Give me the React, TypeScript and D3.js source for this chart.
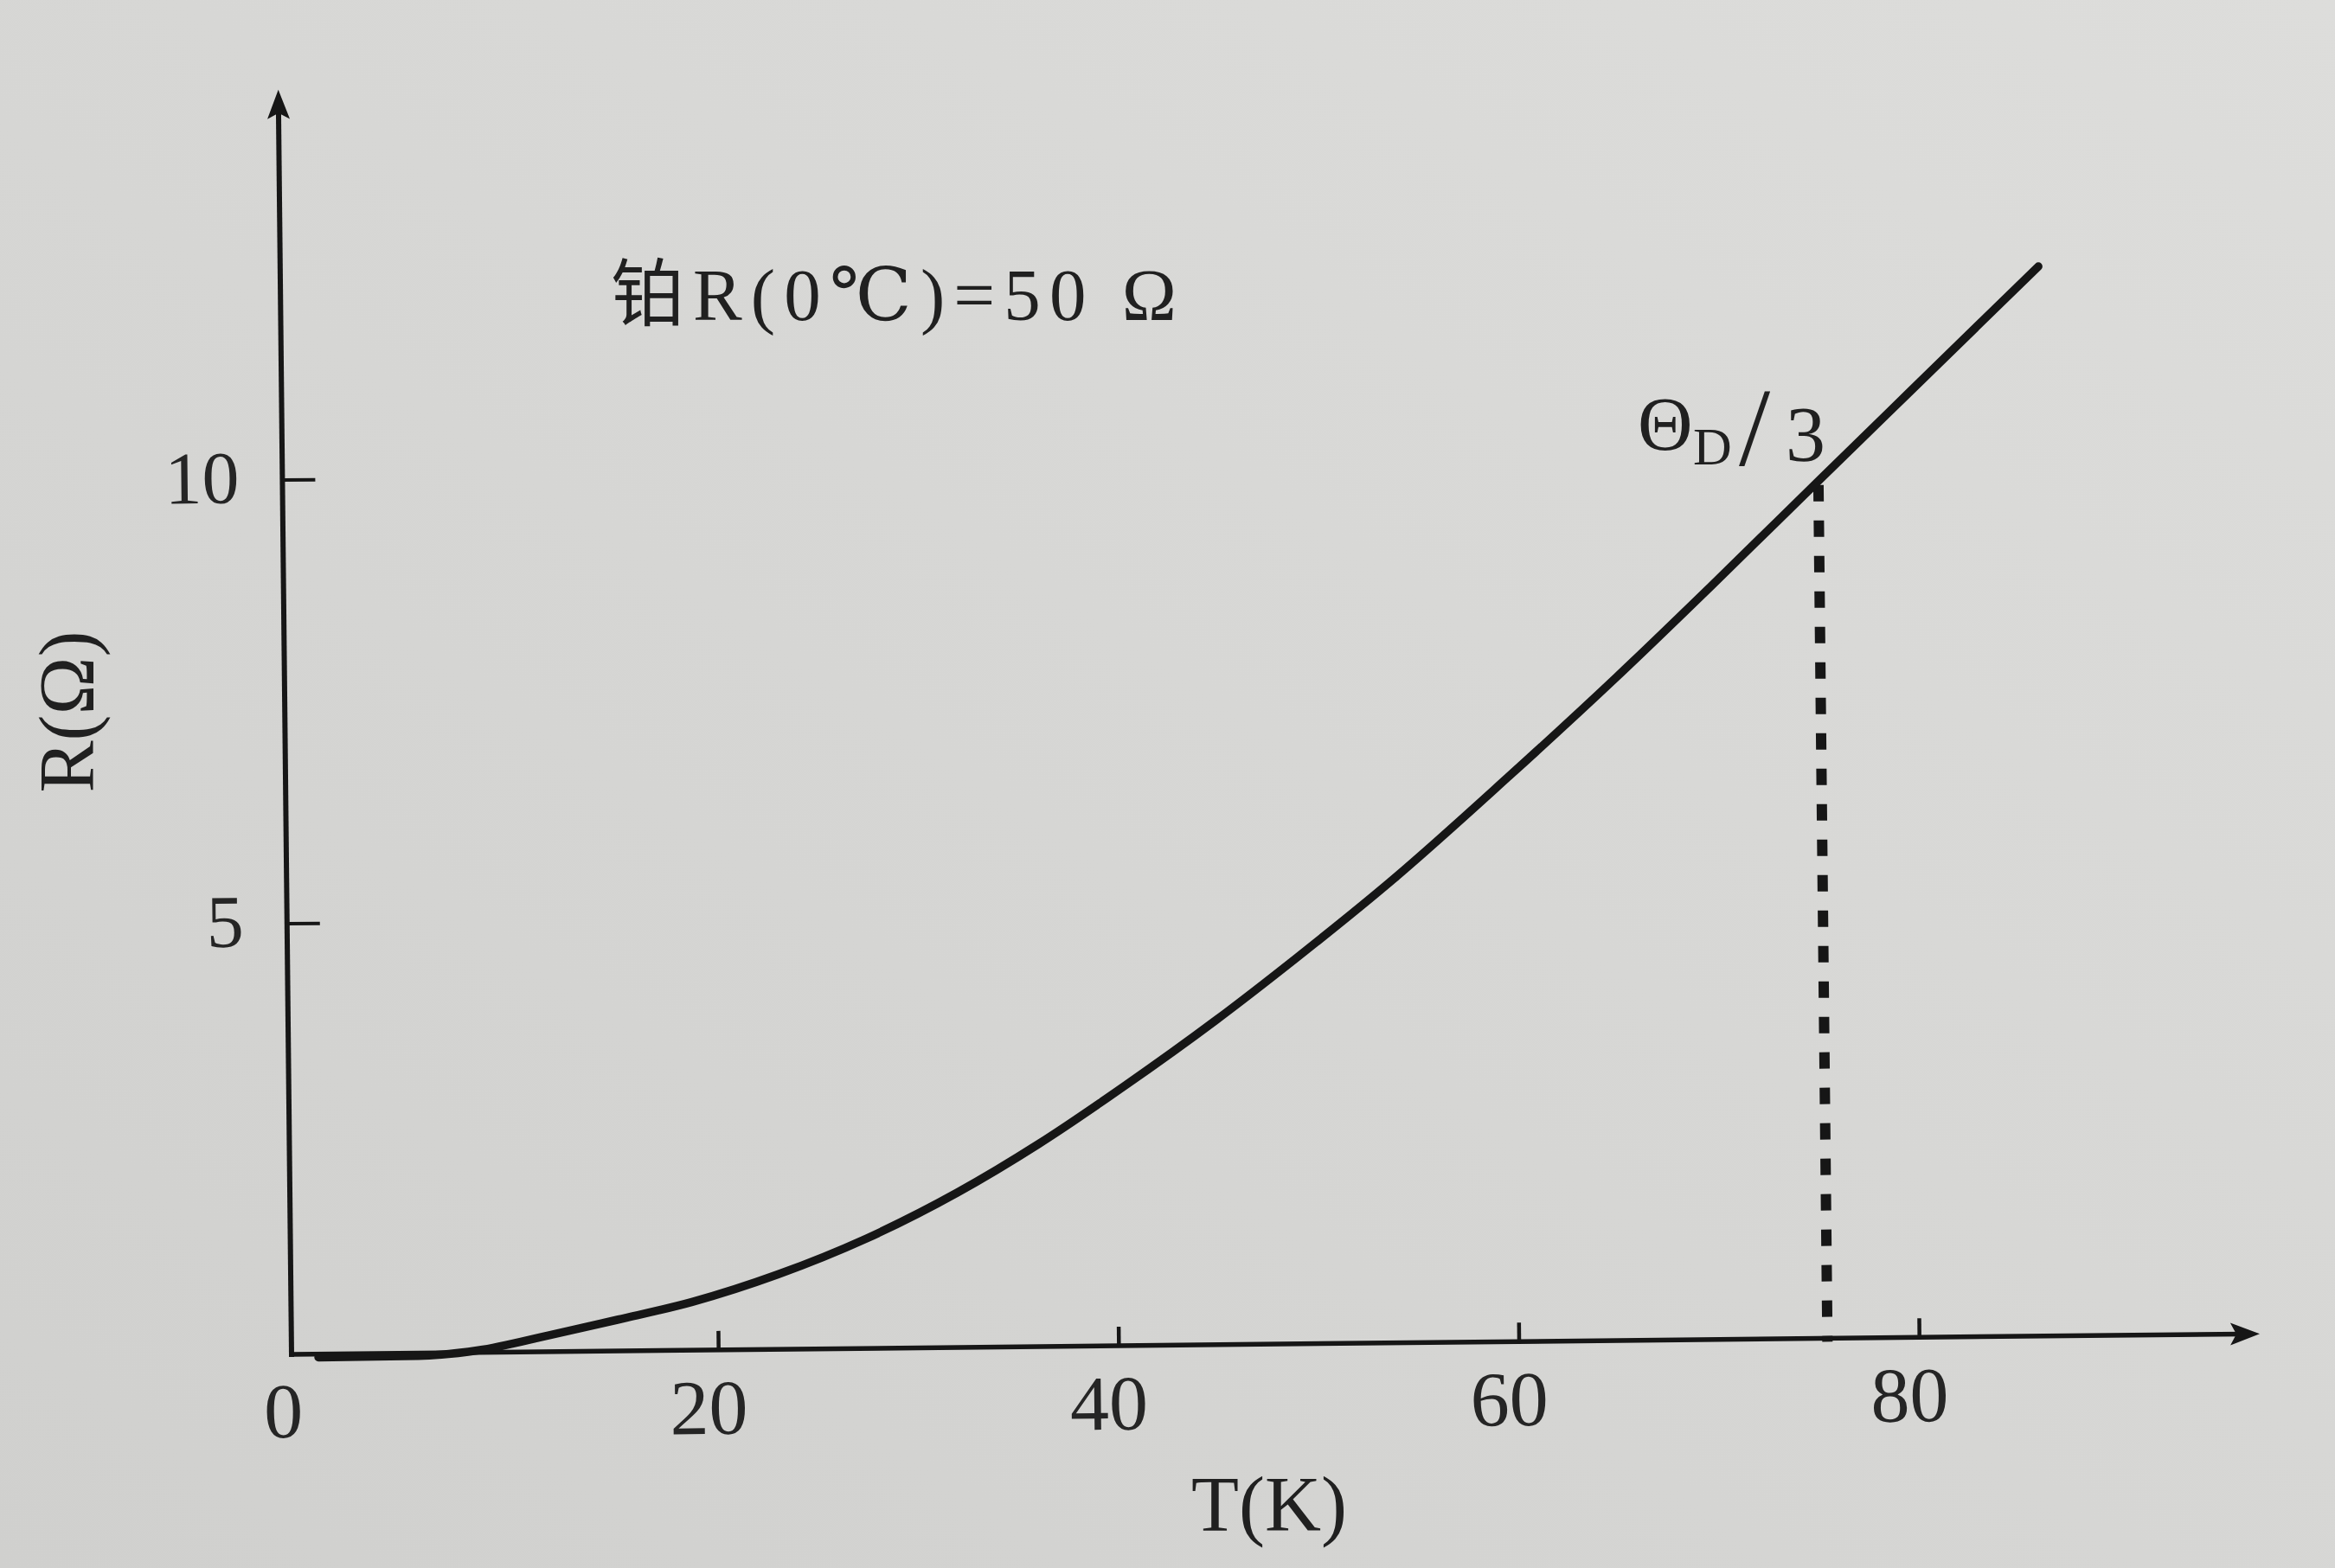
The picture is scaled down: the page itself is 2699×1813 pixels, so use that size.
import { useEffect, useRef } from "react";
import * as d3 from "d3";

// curve: T in K, R in ohm
const temps = [0, 5, 8, 11.5, 15, 18.7, 23, 27.4, 32, 36.1, 40.4, 45, 49.1, 54, 59.7, 65.2, 70, 75.5, 80, 86.5];
const resist = [0.11, 0.115, 0.17, 0.33, 0.5, 0.69, 0.99, 1.38, 1.89, 2.43, 3.07, 3.8, 4.5, 5.38, 6.5, 7.62, 8.64, 9.83, 10.8, 12.2];

const xTicks = [20, 40, 60, 80];
const yTicks = [5, 10];

// axes extents (axis lines start a little off the tick origin in the print)
const xAxisExtent = [-1.34, 97];
const yAxisExtent = [0.146, 14.4];

// Debye marker
const thetaD3 = 75.4;
const thetaD3R = 9.9;

const W = 2699;
const H = 1813;
const ink = "#161616";
const font = "'Liberation Serif', 'DejaVu Serif', 'Noto Sans CJK SC', serif";

export default function App() {
    const svgRef = useRef<SVGSVGElement>(null);

    useEffect(() => {
        if (!svgRef.current) return;
        const svg = d3.select(svgRef.current);
        svg.selectAll("*").remove();

        // paper
        const defs = svg.append("defs");
        const grad = defs
            .append("linearGradient")
            .attr("id", "paper")
            .attr("x1", "0%")
            .attr("y1", "100%")
            .attr("x2", "100%")
            .attr("y2", "0%");
        grad.append("stop").attr("offset", "0%").attr("stop-color", "#d0d0ce");
        grad.append("stop").attr("offset", "100%").attr("stop-color", "#dddddb");
        svg.append("rect").attr("width", W).attr("height", H).attr("fill", "url(#paper)");

        // scales
        const x = d3.scaleLinear().domain([0, 80]).range([368, 368 + 80 * 23.135]);
        const y = d3.scaleLinear().domain([0, 10]).range([1581, 555]);

        const x0 = x(xAxisExtent[0]);
        const y0 = y(yAxisExtent[0]);
        const xEnd = x(xAxisExtent[1]);
        const yEnd = y(yAxisExtent[1]);

        // the photo is slightly tilted
        const g = svg.append("g").attr("transform", `rotate(-0.6, ${x0}, ${y0})`);

        // x axis + arrow
        g.append("line")
            .attr("x1", x0)
            .attr("y1", y0)
            .attr("x2", xEnd - 20)
            .attr("y2", y0)
            .attr("stroke", ink)
            .attr("stroke-width", 5.5);
        g.append("path")
            .attr("d", `M${xEnd},${y0} L${xEnd - 34},${y0 - 13} L${xEnd - 27},${y0} L${xEnd - 34},${y0 + 13} Z`)
            .attr("fill", ink);

        // y axis + arrow
        g.append("line")
            .attr("x1", x0)
            .attr("y1", y0 + 3)
            .attr("x2", x0)
            .attr("y2", yEnd + 20)
            .attr("stroke", ink)
            .attr("stroke-width", 6);
        g.append("path")
            .attr("d", `M${x0},${yEnd} L${x0 - 13},${yEnd + 34} L${x0},${yEnd + 27} L${x0 + 13},${yEnd + 34} Z`)
            .attr("fill", ink);

        // x ticks
        xTicks.forEach((t) => {
            g.append("line")
                .attr("x1", x(t))
                .attr("x2", x(t))
                .attr("y1", y0)
                .attr("y2", y0 - 22)
                .attr("stroke", ink)
                .attr("stroke-width", 4.5);
            g.append("text")
                .attr("x", x(t) - 12)
                .attr("y", y0 + 97)
                .attr("text-anchor", "middle")
                .attr("font-family", font)
                .attr("font-size", 90)
                .attr("fill", "#252525")
                .text(t);
        });
        g.append("text")
            .attr("x", x0 - 10)
            .attr("y", y0 + 96)
            .attr("text-anchor", "middle")
            .attr("font-family", font)
            .attr("font-size", 90)
            .attr("fill", "#252525")
            .text("0");

        // y ticks
        yTicks.forEach((t) => {
            g.append("line")
                .attr("x1", x0)
                .attr("x2", x0 + 38)
                .attr("y1", y(t))
                .attr("y2", y(t))
                .attr("stroke", ink)
                .attr("stroke-width", 4);
            g.append("text")
                .attr("x", x0 - 50)
                .attr("y", y(t) + 26)
                .attr("text-anchor", "end")
                .attr("font-family", font)
                .attr("font-size", 86)
                .attr("fill", "#252525")
                .text(t);
        });

        // dashed Θ_D/3 line
        g.append("line")
            .attr("x1", x(thetaD3))
            .attr("x2", x(thetaD3))
            .attr("y1", y(thetaD3R) + 14)
            .attr("y2", y0 + 4)
            .attr("stroke", ink)
            .attr("stroke-width", 12)
            .attr("stroke-dasharray", "19 22");

        // R(T) curve
        const pts: [number, number][] = temps.map((t, i) => [t, resist[i]]);
        const line = d3
            .line<[number, number]>()
            .x((d) => x(d[0]))
            .y((d) => y(d[1]))
            .curve(d3.curveMonotoneX);
        g.append("path")
            .attr("d", line(pts))
            .attr("fill", "none")
            .attr("stroke", ink)
            .attr("stroke-width", 9.5)
            .attr("stroke-linecap", "round");

        // axis titles
        svg.append("text")
            .attr("transform", "translate(108, 823) rotate(-90)")
            .attr("text-anchor", "middle")
            .attr("font-family", font)
            .attr("font-size", 90)
            .attr("fill", "#202020")
            .text("R(Ω)");
        svg.append("text")
            .attr("x", 1467)
            .attr("y", 1770)
            .attr("text-anchor", "middle")
            .attr("font-family", font)
            .attr("font-size", 90)
            .attr("fill", "#202020")
            .text("T(K)");

        // annotation
        svg.append("text")
            .attr("x", 706)
            .attr("y", 370)
            .attr("font-family", font)
            .attr("font-size", 85)
            .attr("fill", "#202020")
            .attr("textLength", 654)
            .attr("lengthAdjust", "spacing")
            .text("铂R(0℃)=50 Ω");

        // Θ_D/3 label
        const lab = svg.append("text").attr("font-family", font).attr("fill", "#202020");
        lab.append("tspan").attr("x", 1893).attr("y", 520).attr("font-size", 88).text("Θ");
        lab.append("tspan").attr("x", 1957).attr("y", 537).attr("font-size", 62).text("D");
        lab.append("tspan").attr("x", 2010).attr("y", 538).attr("font-size", 130).text("/");
        lab.append("tspan").attr("x", 2064).attr("y", 533).attr("font-size", 92).text("3");
    }, []);

    return <svg ref={svgRef} width={W} height={H} style={{ position: "absolute", left: 0, top: 0 }} />;
}
